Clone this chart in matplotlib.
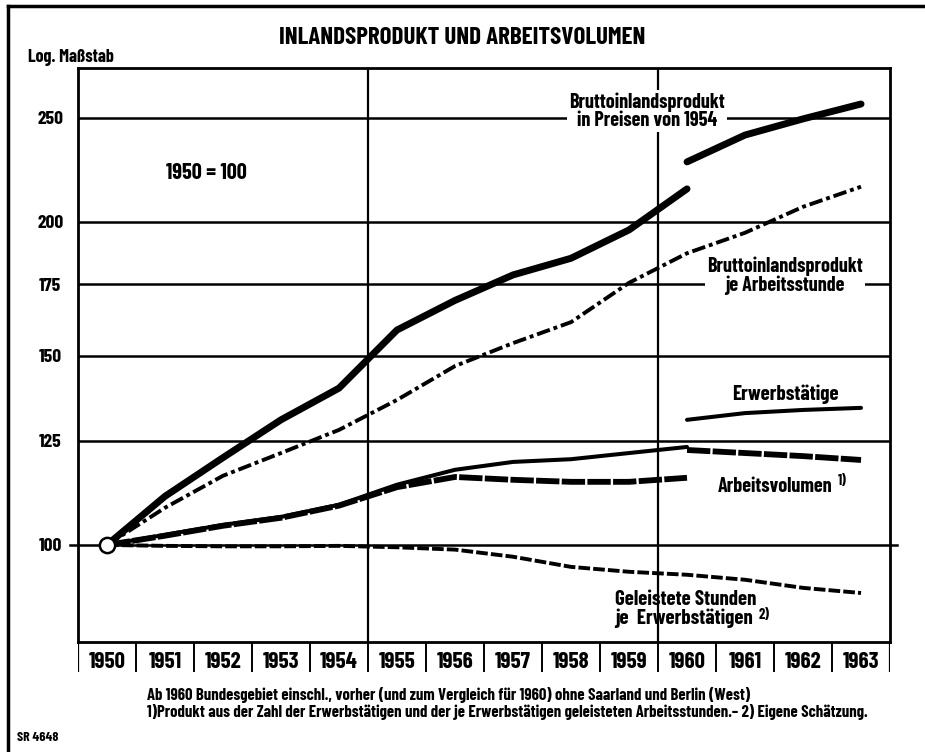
import numpy as np
import matplotlib
matplotlib.use("Agg")
import matplotlib.pyplot as plt
from matplotlib.lines import Line2D

plt.rcParams['font.family'] = ['Barlow Condensed', 'DejaVu Sans']
plt.rcParams['font.weight'] = 'bold'

# -----------------------------
# Data (1950 = 100)
# -----------------------------
years = list(range(1950, 1964))
years_old = list(range(1950, 1961))   # ohne Saarland und Berlin
years_new = list(range(1960, 1964))   # Bundesgebiet einschl.

bip_old = [100, 111.0, 120.6, 130.8, 140.0, 158.6, 169.0, 178.5, 185.0, 196.6, 214.7]
bip_new = [227.5, 241.0, 249.5, 257.6]
bip_je_std = [100, 108.3, 116.0, 121.8, 128.0, 136.5, 146.8, 154.2, 161.3, 175.5,
              187.0, 195.4, 206.6, 215.7]
erw_old = [100, 102.2, 104.4, 106.2, 109.0, 113.8, 117.5, 119.5, 120.2, 121.8, 123.4]
erw_new = [130.8, 132.7, 133.6, 134.2]
av_old = [100, 102.0, 104.2, 106.0, 108.8, 113.2, 115.7, 115.0, 114.5, 114.5, 115.5]
av_new = [122.6, 121.8, 121.0, 120.0]
std_je_erw = [100, 99.8, 99.7, 99.7, 99.8, 99.5, 99.0, 97.5, 95.4, 94.4, 93.8,
              92.8, 91.2, 90.2]

ytick_vals = [100, 125, 150, 175, 200, 250]
ytick_labels = ["100", "125", "150", "175", "200", "250"]

# -----------------------------
# Figure
# -----------------------------
fig = plt.figure(figsize=(9.25, 7.52), dpi=100)
ax = fig.add_axes([0.0843, 0.1463, 0.8779, 0.7633])
ax.set_yscale('log')
ax.set_xlim(1949.5, 1963.5)
ax.set_ylim(81.2, 278.3)

ax.minorticks_off()
ax.set_yticks(ytick_vals)
ax.set_yticklabels(ytick_labels, fontsize=14, fontweight='bold')
ax.tick_params(axis='y', length=0, pad=20)
ax.set_xticks([])
for lbl in ax.get_yticklabels():
    lbl.set_horizontalalignment('center')
for s in ax.spines.values():
    s.set_linewidth(2)

# grid
for v in ytick_vals[1:]:
    ax.axhline(v, color='black', lw=1.8, zorder=1)
ax.plot([1949.36, 1963.62], [100, 100], color='black', lw=1.8, zorder=1, clip_on=False)
for xv in (1954.5, 1959.5):
    ax.axvline(xv, color='black', lw=1.6, zorder=1)

# series
ax.plot(years_old, bip_old, color='black', lw=5.0, solid_capstyle='round', zorder=3)
ax.plot(years_new, bip_new, color='black', lw=5.0, solid_capstyle='round', zorder=3)
ax.plot(years, bip_je_std, color='black', lw=2.8, ls=(0, (3.5, 1.0, 1, 1.0)), zorder=3)
ax.plot(years_old, erw_old, color='black', lw=2.9, solid_capstyle='round', zorder=3)
ax.plot(years_new, erw_new, color='black', lw=2.9, solid_capstyle='round', zorder=3)
ax.plot(years_old, av_old, color='black', lw=4.2, ls=(0, (4, 0.4)), zorder=3)
ax.plot(years_new, av_new, color='black', lw=4.2, ls=(0, (4, 0.4)), zorder=3)
ax.plot(years, std_je_erw, color='black', lw=2.8, ls=(0, (3, 0.8)), zorder=3)
ax.plot([1950], [100], marker='o', ms=11, mfc='white', mec='black', mew=1.8,
        zorder=4, clip_on=False)

# labels in the plot
ax.text(1951.71, 222.2, "1950 = 100", ha='center', va='center', fontsize=16)
ax.text(1959.31, 253.8, "Bruttoinlandsprodukt\nin Preisen von 1954", ha='center',
        va='center', fontsize=14.5, linespacing=0.95,
        bbox=dict(facecolor='white', edgecolor='none', pad=1.5), zorder=2)
ax.text(1961.69, 178.2, "Bruttoinlandsprodukt\nje Arbeitsstunde", ha='center',
        va='center', fontsize=14.5, linespacing=0.95,
        bbox=dict(facecolor='white', edgecolor='none', pad=1.5), zorder=2)
ax.text(1961.69, 138.3, "Erwerbstätige", ha='center', va='center', fontsize=15)
ax.text(1961.52, 113.3, "Arbeitsvolumen", ha='center', va='center', fontsize=14.5)
ax.text(1962.6, 114.6, "1)", ha='left', va='center', fontsize=10.5)
ax.text(1958.76, 87.2, "Geleistete Stunden\nje  Erwerbstätigen", ha='left',
        va='center', fontsize=15, linespacing=0.95)
ax.text(1961.24, 86.1, "2)", ha='left', va='center', fontsize=10.5)

# year row
ax2 = fig.add_axes([0.0843, 0.1064, 0.8779, 0.0399])
ax2.set_xlim(1949.5, 1963.5)
ax2.set_ylim(0, 1)
ax2.axis('off')
for xv in np.arange(1949.5, 1964.0, 1.0):
    ax2.axvline(xv, color='black', lw=1.6 if xv in (1949.5, 1963.5) else 1.4)
for y in years:
    ax2.text(y, 0.32, str(y), ha='center', va='center', fontsize=16.5)

# titles and notes
fig.text(0.5, 0.950, "INLANDSPRODUKT UND ARBEITSVOLUMEN", ha='center', va='center',
         fontsize=18)
fig.text(0.030, 0.924, "Log. Maßstab", ha='left', va='center', fontsize=13)
fig.text(0.159, 0.076,
         "Ab 1960 Bundesgebiet einschl., vorher (und zum Vergleich für 1960) "
         "ohne Saarland und Berlin (West)", ha='left', va='center', fontsize=12)
fig.text(0.159, 0.053,
         "1)Produkt aus der Zahl der Erwerbstätigen und der je Erwerbstätigen "
         "geleisteten Arbeitsstunden.– 2) Eigene Schätzung.", ha='left', va='center',
         fontsize=12)
fig.text(0.018, 0.019, "SR 4648", ha='left', va='center', fontsize=10)

# outer frame (top and left)
fig.add_artist(Line2D([0.009, 1.0], [0.992, 0.992], color='black', lw=2.5,
                      transform=fig.transFigure))
fig.add_artist(Line2D([0.009, 0.009], [0.0, 0.992], color='black', lw=2.5,
                      transform=fig.transFigure))

fig.savefig("out.png", dpi=100)
